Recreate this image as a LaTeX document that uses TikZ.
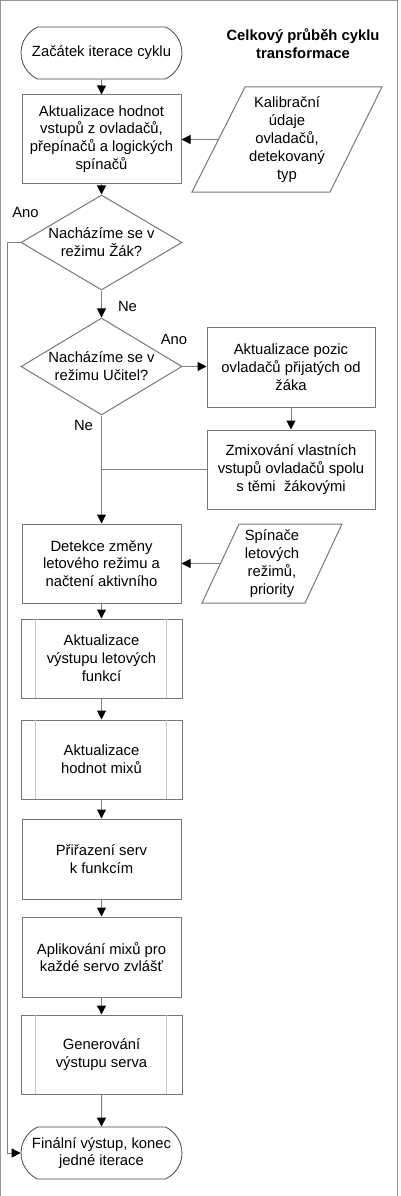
\documentclass[tikz,border=0pt]{standalone}
\usepackage{fontspec}
\setmainfont{Liberation Sans}
\usetikzlibrary{arrows.meta,shapes.geometric,shapes.misc}
\definecolor{linegray}{RGB}{128,128,128}
\definecolor{edgegray}{RGB}{120,120,120}
\definecolor{termgray}{RGB}{70,70,70}
\definecolor{innergray}{RGB}{200,200,200}
\definecolor{framegray}{RGB}{150,150,150}
\tikzset{
  txt/.style={font=\fontsize{14.8}{17.8}\selectfont, align=center, inner sep=0pt},
  procbox/.style={draw=edgegray, line width=1pt, minimum width=159pt, inner sep=0pt, font=\fontsize{14.8}{17.8}\selectfont, align=center},
  predef/.style={draw=edgegray, line width=1pt, minimum width=161pt, inner sep=0pt, font=\fontsize{14.8}{17.8}\selectfont, align=center},
  terminal/.style={rounded rectangle, rounded rectangle arc length=130, draw=termgray, line width=0.8pt, minimum width=161pt, minimum height=52pt, inner sep=0pt, font=\fontsize{14.8}{17.8}\selectfont, align=center},
  decision/.style={diamond, draw=edgegray, line width=1pt, inner sep=0pt, minimum width=161pt},
  iobox/.style={draw=edgegray, line width=1pt},
  conn/.style={draw=linegray, line width=1pt},
  arr/.style={conn, -{Triangle[length=9pt,width=9pt,color=black,fill=black]}},
  lbl/.style={font=\fontsize{14.8}{17.8}\selectfont, inner sep=0pt}
}
\begin{document}
\begin{tikzpicture}[x=1pt,y=-1pt]
\useasboundingbox (0,0) rectangle (400,1196);
\draw[framegray, line width=1pt] (0.8,1196) -- (0.8,0.5) -- (397.3,0.5) -- (397.3,1196);

% title
\node[font={\fontsize{14.8}{18.6}\selectfont\bfseries}, align=center, inner sep=0pt] (title) at (303,43.5) {Celkový průběh cyklu\\transformace};

% start
\node[terminal] (start) at (101.5,53) {Začátek iterace cyklu};

% box 1
\node[procbox, minimum height=88pt] (b1) at (101.5,139) {Aktualizace hodnot\\vstupů z ovladačů,\\přepínačů a logických\\spínačů};

% parallelogram 1
\draw[iobox] (245,87) -- (382,87) -- (330,192) -- (192,192) -- cycle;
\coordinate (p1w) at (218.5,139.5);
\node[txt, font=\fontsize{14.8}{18.2}\selectfont] (p1) at (287,139.5) {Kalibrační\\údaje\\ovladačů,\\detekovaný\\typ};

% decision 1
\node[decision, minimum height=95pt] (d1) at (101.5,242.5) {};
\node[txt] (d1t) at (d1) {Nacházíme se v\\režimu Žák?};

% decision 2
\node[decision, minimum height=97pt] (d2) at (101.5,366.5) {};
\node[txt] (d2t) at (d2) {Nacházíme se v\\režimu Učitel?};

% teacher branch
\node[procbox, minimum width=168pt, minimum height=80pt] (ap) at (291,367) {Aktualizace pozic\\ovladačů přijatých od\\žáka};
\node[procbox, minimum width=168pt, minimum height=79pt] (zm) at (291,469.5) {Zmixování vlastních\\vstupů ovladačů spolu\\s těmi~ žákovými};

% detection
\node[procbox, minimum height=79pt] (det) at (101.5,563.5) {Detekce změny\\letového režimu a\\načtení aktivního};

% parallelogram 2
\draw[iobox] (239,524) -- (342,524) -- (305,603) -- (202,603) -- cycle;
\coordinate (p2w) at (220.5,563.5);
\node[txt, font=\fontsize{14.8}{18.2}\selectfont] (p2) at (272,563.5) {Spínače\\letových\\režimů,\\priority};

% predefined processes and boxes
\node[predef, minimum height=79pt] (pp1) at (101.5,658.5) {Aktualizace\\výstupu letových\\funkcí};
\node[predef, minimum height=79pt] (mx) at (101.5,759.5) {Aktualizace\\hodnot mixů};
\node[procbox, minimum height=80pt] (pr) at (101.5,859) {Přiřazení serv\\k funkcím};
\node[procbox, minimum height=80pt] (apl) at (101.5,957) {Aplikování mixů pro\\každé servo zvlášť};
\node[predef, minimum height=79pt] (gen) at (101.5,1054.5) {Generování\\výstupu serva};

\foreach \n in {pp1,mx,gen}{
  \draw[innergray, line width=1pt] ([xshift=15pt,yshift=-0.5pt]\n.north west) -- ([xshift=15pt,yshift=0.5pt]\n.south west);
  \draw[innergray, line width=1pt] ([xshift=-16pt,yshift=-0.5pt]\n.north east) -- ([xshift=-16pt,yshift=0.5pt]\n.south east);
}

% end
\node[terminal] (end) at (101.5,1153) {Finální výstup, konec\\jedné iterace};

% connectors
\draw[arr] (start) -- (b1);
\draw[arr] (p1w) -- (p1w -| b1.east);
\draw[arr] (b1) -- (d1);
\draw[arr] (d1) -- (d2);
\draw[arr] (d2.east) -- (d2.east -| ap.west);
\draw[arr] (ap) -- (zm);
\draw[conn] (zm.west) -- (zm.west -| d2.south);
\draw[arr] (d2.south) -- (det.north);
\draw[arr] (p2w) -- (p2w -| det.east);
\draw[arr] (det) -- (pp1);
\draw[arr] (pp1) -- (mx);
\draw[arr] (mx) -- (pr);
\draw[arr] (pr) -- (apl);
\draw[arr] (apl) -- (gen);
\draw[arr] (gen) -- (end);
\coordinate (loopc) at (7,242.5);
\draw[arr] (d1.west) -- (loopc) |- (end.west);

% labels
\node[lbl] (ano1) at (25.5,212) {Ano};
\node[lbl] (ne1) at (127.5,306) {Ne};
\node[lbl] (ano2) at (174,339) {Ano};
\node[lbl] (ne2) at (83.5,425) {Ne};
\end{tikzpicture}
\end{document}
